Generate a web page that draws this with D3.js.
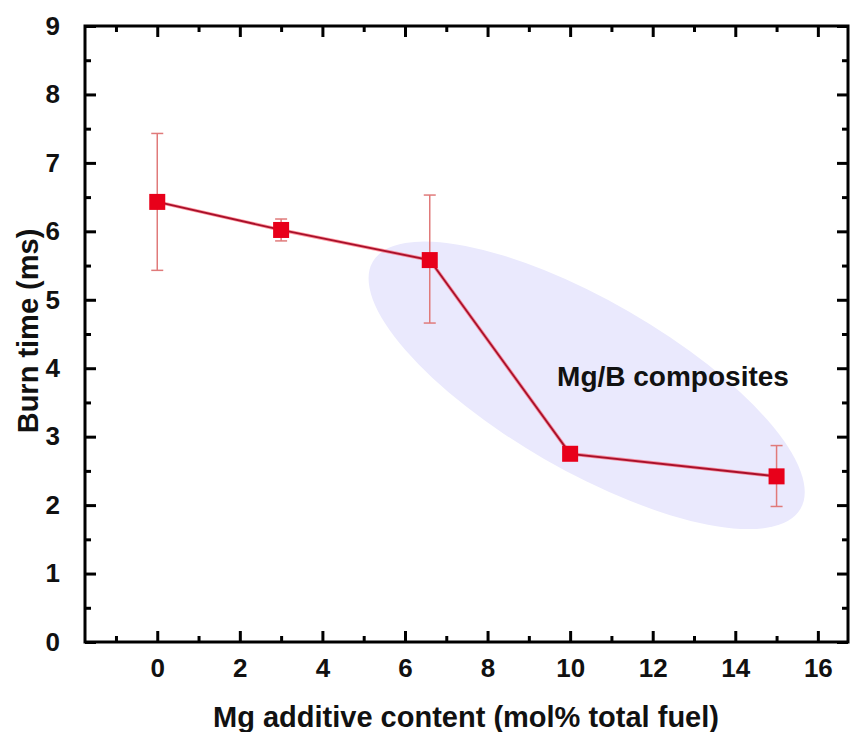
<!DOCTYPE html>
<html>
<head>
<meta charset="utf-8">
<script src="https://cdn.jsdelivr.net/npm/d3@7"></script>
<style>
  html, body { margin: 0; padding: 0; background: #fff; }
  svg { display: block; }
  text { font-family: "Liberation Sans", Arial, sans-serif; font-weight: bold; fill: #111; }
</style>
</head>
<body>
<svg id="chart" width="851" height="732"></svg>
<script>
// ---- data ----
const xValues = [0, 3, 6.6, 10, 15];
const burnTime = [6.43, 6.02, 5.58, 2.75, 2.42];
const errLow = [5.43, 5.86, 4.66, 2.72, 1.98];
const errHigh = [7.43, 6.18, 6.53, 2.78, 2.87];
const xTicks = [0, 2, 4, 6, 8, 10, 12, 14, 16];
const xMinorTicks = [-1, 1, 3, 5, 7, 9, 11, 13, 15];
const yTicks = [0, 1, 2, 3, 4, 5, 6, 7, 8, 9];
const yMinorTicks = [0.5, 1.5, 2.5, 3.5, 4.5, 5.5, 6.5, 7.5, 8.5];
const xLabel = "Mg additive content (mol% total fuel)";
const yLabel = "Burn time (ms)";
const annotation = "Mg/B composites";
const regionCenter = [10.4, 3.75];

// ---- layout ----
const svg = d3.select("#chart");
const L = 85, R = 848, T = 26, B = 642;
const x = d3.scaleLinear().domain([-1.75, 16.73]).range([L, R]);
const y = d3.scaleLinear().domain([0, 9]).range([B, T]);

// highlighted ellipse
const cx = x(regionCenter[0]), cy = y(regionCenter[1]);
svg.append("ellipse")
  .attr("cx", cx).attr("cy", cy)
  .attr("rx", 247).attr("ry", 85)
  .attr("transform", `rotate(30, ${cx}, ${cy})`)
  .attr("fill", "#eae9fd");

// error bars
const eb = svg.append("g").attr("stroke", "#e07a7a").attr("stroke-width", 1.5).attr("fill", "none");
xValues.forEach((xv, i) => {
  const px = x(xv);
  eb.append("line").attr("x1", px).attr("x2", px).attr("y1", y(errLow[i])).attr("y2", y(errHigh[i]));
  eb.append("line").attr("x1", px - 6).attr("x2", px + 6).attr("y1", y(errLow[i])).attr("y2", y(errLow[i]));
  eb.append("line").attr("x1", px - 6).attr("x2", px + 6).attr("y1", y(errHigh[i])).attr("y2", y(errHigh[i]));
});

// line
const pts = xValues.map((v, i) => [v, burnTime[i]]);
const lineGen = d3.line().x(d => x(d[0])).y(d => y(d[1]));
svg.append("path").datum(pts)
  .attr("fill", "none")
  .attr("stroke", "#ff3040").attr("stroke-width", 3.5).attr("stroke-opacity", 0.5)
  .attr("d", lineGen);
svg.append("path").datum(pts)
  .attr("fill", "none")
  .attr("stroke", "#a8102a").attr("stroke-width", 1.8)
  .attr("d", lineGen);

// markers
const ms = 16;
svg.append("g").selectAll("rect").data(pts).join("rect")
  .attr("x", d => x(d[0]) - ms / 2)
  .attr("y", d => y(d[1]) - ms / 2)
  .attr("width", ms).attr("height", ms)
  .attr("fill", "#e8001a");

// annotation
svg.append("text")
  .attr("x", 673).attr("y", 386)
  .attr("text-anchor", "middle")
  .attr("font-size", 28)
  .text(annotation);

// axes frame & ticks (inward)
const axisStyle = g => {
  g.select(".domain").remove();
  g.selectAll(".tick line").attr("stroke", "#000").attr("stroke-width", 3);
};
const fs = 26;
const labelStyle = g => g.selectAll("text").attr("font-size", fs).attr("fill", "#111")
  .style("font-family", "Liberation Sans, Arial").style("font-weight", "bold");
// bottom
svg.append("g").attr("transform", `translate(0,${B})`)
  .call(d3.axisBottom(x).tickValues(xTicks).tickSize(-11).tickPadding(17).tickFormat(d3.format("d")))
  .call(axisStyle).call(labelStyle);
svg.append("g").attr("transform", `translate(0,${B})`)
  .call(d3.axisBottom(x).tickValues(xMinorTicks).tickSize(-6).tickFormat(""))
  .call(axisStyle);
// top
svg.append("g").attr("transform", `translate(0,${T})`)
  .call(d3.axisTop(x).tickValues(xTicks).tickSize(-11).tickFormat(""))
  .call(axisStyle);
svg.append("g").attr("transform", `translate(0,${T})`)
  .call(d3.axisTop(x).tickValues(xMinorTicks).tickSize(-6).tickFormat(""))
  .call(axisStyle);
// left
svg.append("g").attr("transform", `translate(${L},0)`)
  .call(d3.axisLeft(y).tickValues(yTicks).tickSize(-11).tickPadding(25).tickFormat(d3.format("d")))
  .call(axisStyle).call(labelStyle);
svg.append("g").attr("transform", `translate(${L},0)`)
  .call(d3.axisLeft(y).tickValues(yMinorTicks).tickSize(-6).tickFormat(""))
  .call(axisStyle);
// right
svg.append("g").attr("transform", `translate(${R},0)`)
  .call(d3.axisRight(y).tickValues(yTicks).tickSize(-11).tickFormat(""))
  .call(axisStyle);
svg.append("g").attr("transform", `translate(${R},0)`)
  .call(d3.axisRight(y).tickValues(yMinorTicks).tickSize(-6).tickFormat(""))
  .call(axisStyle);

svg.append("rect")
  .attr("x", L).attr("y", T).attr("width", R - L).attr("height", B - T)
  .attr("fill", "none").attr("stroke", "#000").attr("stroke-width", 3);

// axis titles
svg.append("text")
  .attr("x", 466).attr("y", 727)
  .attr("text-anchor", "middle")
  .attr("font-size", 29)
  .text(xLabel);
svg.append("text")
  .attr("transform", `translate(38,331) rotate(-90)`)
  .attr("text-anchor", "middle")
  .attr("font-size", 29)
  .text(yLabel);
</script>
</body>
</html>
